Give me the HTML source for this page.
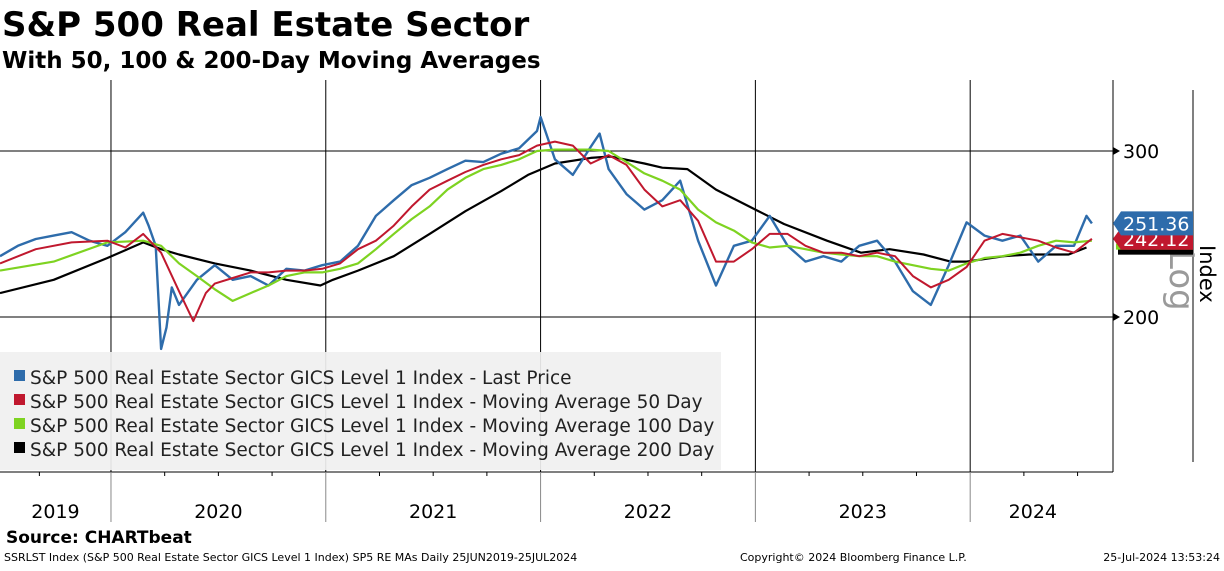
<!DOCTYPE html>
<html><head><meta charset="utf-8"><style>
body{margin:0;width:1224px;height:566px;background:#fff;overflow:hidden;font-family:"Liberation Sans","DejaVu Sans",sans-serif}
</style></head><body>
<svg id="c" width="1224" height="566" xmlns="http://www.w3.org/2000/svg" font-family="DejaVu Sans, Liberation Sans, sans-serif">
<text x="2" y="36" font-size="34" font-weight="bold">S&amp;P 500 Real Estate Sector</text>
<text x="2" y="68" font-size="23" font-weight="bold">With 50, 100 &amp; 200-Day Moving Averages</text>
<g id="grid"></g>
<g id="series"></g>
<rect x="0" y="352" width="721" height="118" fill="#f0f0f0" fill-opacity="0.92"/>
<g font-size="18.5" fill="#222">
<rect x="14" y="370" width="11" height="11" fill="#2e6cab"/>
<text x="30" y="384">S&amp;P 500 Real Estate Sector GICS Level 1 Index - Last Price</text>
<rect x="14" y="394" width="11" height="11" fill="#c0182e"/>
<text x="30" y="408">S&amp;P 500 Real Estate Sector GICS Level 1 Index - Moving Average 50 Day</text>
<rect x="14" y="418" width="11" height="11" fill="#7ed321"/>
<text x="30" y="432">S&amp;P 500 Real Estate Sector GICS Level 1 Index - Moving Average 100 Day</text>
<rect x="14" y="442" width="11" height="11" fill="#000"/>
<text x="30" y="456">S&amp;P 500 Real Estate Sector GICS Level 1 Index - Moving Average 200 Day</text>
</g>
<line x1="1193" y1="90" x2="1193" y2="462" stroke="#000"/>
<text transform="translate(1170,250) rotate(90)" font-size="34" fill="#9a9a9a">Log</text>
<text transform="translate(1200,245) rotate(90)" font-size="21">Index</text>
<g id="tags"></g>
<text x="6" y="543" font-size="17" font-weight="bold">Source: CHARTbeat</text>
<text x="4" y="561" font-size="11">SSRLST Index (S&amp;P 500 Real Estate Sector GICS Level 1 Index) SP5 RE MAs  Daily 25JUN2019-25JUL2024</text>
<text x="740" y="561" font-size="11">Copyright© 2024 Bloomberg Finance L.P.</text>
<text x="1220" y="561" font-size="11" text-anchor="end">25-Jul-2024 13:53:24</text>
</svg>
<script>
const yearLabels=["2019","2020","2021","2022","2023","2024"];
const yearStarts=[-6.8,6.2,18.2,30.2,42.2,54.2]; // months since 25 Jun 2019
const yTicks=[200,300];
const priceM=[0,1,2,3,4,5,6,7,8,8.3,8.7,9.0,9.3,9.6,10,11,12,13,14,15,16,17,18,19,20,21,22,23,24,25,26,27,28,29,30,30.2,31,32,33,33.5,34,35,36,37,38,39,40,41,42,43,44,45,46,47,48,49,50,51,52,53,54,55,56,57,58,59,60,60.7,61];
const priceV=[232,238,242,244,246,241,238,246,258,250,238,185,195,215,206,219,227,219,221,216,225,224,227,229,238,256,266,276,281,287,293,292,298,302,315,326,294,283,303,313,287,270,260,266,279,241,216,238,241,256,238,229,232,229,238,241,229,213,206,227,252,244,241,244,229,238,238,256,251.36];
const ma50M=[0,2,4,6,7,8,9,10,10.8,11.5,12,13,14,15,16,17,18,19,20,21,22,23,24,25,26,27,28,29,30,31,32,33,34,35,36,37,38,39,40,41,42,43,44,45,46,47,48,49,50,51,52,53,54,55,56,57,58,59,60,61];
const ma50V=[228,236,240,241,237,245,234,213,198,212,217,220,223,223,224,224,225,228,236,241,250,262,273,279,285,290,294,297,304,307,304,291,297,290,273,262,266,253,229,229,236,245,245,238,234,234,232,234,232,221,215,219,226,241,245,243,241,237,234,242.12];
const ma100M=[0,3,6,8,9,10,11,12,13,14,15,16,17,18,19,20,21,22,23,24,25,26,27,28,29,30,31,32,33,34,35,36,37,38,39,40,41,42,43,44,45,46,47,48,49,50,51,52,53,54,55,56,57,58,59,60,61];
const ma100V=[224,229,240,241,238,228,221,214,208,212,216,221,223,223,225,228,236,245,254,262,273,281,287,290,294,300,301,301,301,300,292,284,279,273,260,252,247,240,237,238,236,234,233,232,232,229,227,225,224,228,231,232,234,238,241,240,241];
const ma200M=[0,3,6,8,9,10,12,14,16,17.9,18.6,20,22,24,26,28,29.5,31,33,34.1,36,37,38.4,40,42.2,43.8,46.2,48.1,49.7,51.6,53.1,54,56.1,57.5,59.7,60.7];
const ma200V=[212,219,231,240,236,233,228,224,219,216,219,224,232,245,259,272,283,291,295,296,291,288,287,273,260,251,241,234,236,233,229,229,232,233,233,237];

const NS='http://www.w3.org/2000/svg';
const X0=0,PX=17.9;
function xs(m){return X0+m*PX;}
function ys(v){return 317-(Math.log(v/200)/Math.log(1.5))*166;}
const grid=document.getElementById('grid');
function mk(tag,attrs,parent){const e=document.createElementNS(NS,tag);for(const k in attrs)e.setAttribute(k,attrs[k]);parent.appendChild(e);return e;}
let ax=mk('line',{x1:1113,y1:80,x2:1113,y2:472,stroke:'#000'},grid);


let bx=mk('line',{x1:0,y1:472,x2:1113,y2:472,stroke:'#000'},grid);


yTicks.forEach(v=>{
  const y=ys(v);
  const g=mk('line',{x1:0,y1:y,x2:1113,y2:y,stroke:'#000'},grid);
  
  
  const a=mk('path',{d:`M1113 ${y-4}L1120 ${y}L1113 ${y+4}Z`,fill:'#000'},grid);
  
  
  const t=mk('text',{x:1123,y:y+7,'font-size':19},grid);t.textContent=v;
  
  
});
yearLabels.forEach((lab,i)=>{
  const s=Math.max(0,xs(yearStarts[i]));
  const e=i<yearLabels.length-1?xs(yearStarts[i+1]):xs(61.2);
  if(i>0){const l=mk('line',{x1:s,y1:80,x2:s,y2:472,stroke:'#000'},grid);
    
    
    const l2=mk('line',{x1:s,y1:472,x2:s,y2:522,stroke:'#888'},grid);
    
    }
  for(let k=3;k<12;k+=3){const mx=xs(yearStarts[i]+k);if(mx>0&&mx<1113){const tk=mk('line',{x1:mx,y1:472,x2:mx,y2:476,stroke:'#000'},grid);
    
    }}
  const t=mk('text',{x:(s+e)/2,y:518,'font-size':19,'text-anchor':'middle'},grid);t.textContent=lab;
  
  
});
const ser=document.getElementById('series');
function line(M,V,col,w,name){
  const d=M.map((m,i)=>(i?'L':'M')+xs(m).toFixed(1)+' '+ys(V[i]).toFixed(1)).join('');
  const p=mk('path',{d:d,fill:'none',stroke:col,'stroke-width':w,'stroke-linejoin':'round'},ser);
  
  
}
line(ma200M,ma200V,'#000',2.2,'ma200-line');
line(priceM,priceV,'#2e6cab',2.4,'price-line');
line(ma100M,ma100V,'#7ed321',2.2,'ma100-line');
line(ma50M,ma50V,'#c0182e',2,'ma50-line');
const tags=document.getElementById('tags');
function tag(v,col,name,txt,h){
  const y=ys(v);
  const p=mk('path',{d:`M1113 ${y}L1121 ${y-h/2}L1193 ${y-h/2}L1193 ${y+h/2}L1121 ${y+h/2}Z`,fill:col},tags);
  
  
  if(txt){const t=mk('text',{x:1123,y:y+7,'font-size':19,fill:'#fff'},tags);t.textContent=txt;
    
    }
}
const lastMA100=ma100V[ma100V.length-1];
const r1=mk('rect',{x:1118,y:ys(lastMA100)+8,width:75,height:6,fill:'#000'},tags);


const r2=mk('rect',{x:1116,y:ys(lastMA100)+3,width:77,height:6,fill:'#7ed321'},tags);


tag(ma50V[ma50V.length-1],'#c0182e','ma50-tag',ma50V[ma50V.length-1].toFixed(2),22);
tag(priceV[priceV.length-1],'#2e6cab','price-tag',priceV[priceV.length-1].toFixed(2),24);
</script>
</body></html>
